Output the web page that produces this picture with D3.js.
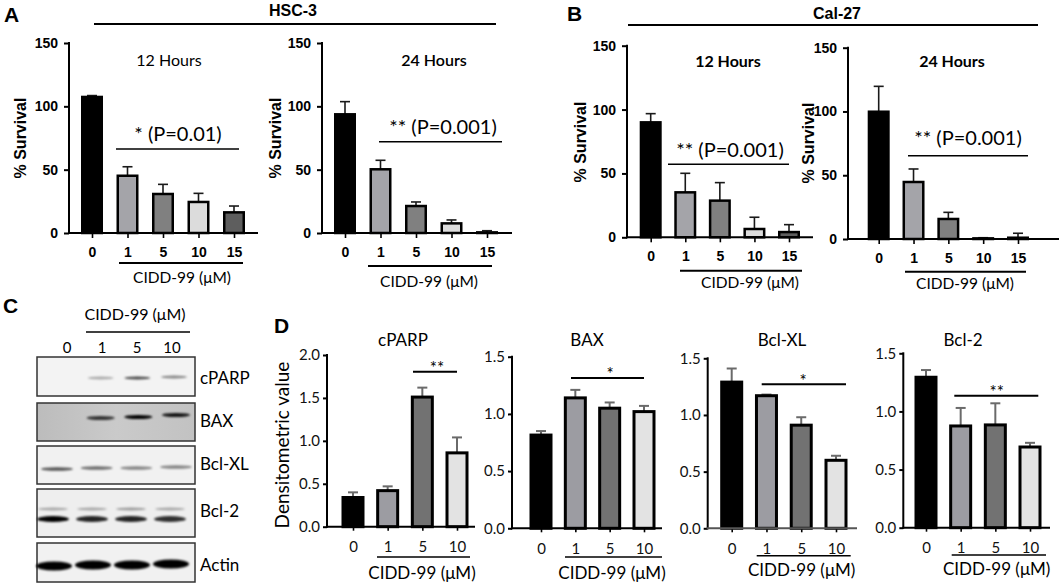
<!DOCTYPE html>
<html><head><meta charset="utf-8">
<script src="https://cdn.jsdelivr.net/npm/d3@7"></script>
<style>
body{margin:0;background:#fff;}
svg{display:block;}
.tk text{font-family:"Liberation Sans",Arial,sans-serif;font-weight:bold;font-size:14px;fill:#000;}
.tkD text{font-family:Lato,"Open Sans",sans-serif;font-size:15px;fill:#111;}
</style>
</head><body>
<script>
// ---------- DATA ----------
const survivalDoses = ["0","1","5","10","15"];
const survivalTicks = [0,50,100,150];
const hsc3_12h = [107.4, 45.2, 30.8, 24.5, 16.3];
const hsc3_12h_err = [1.1, 7.1, 7.6, 6.8, 5.0];
const hsc3_24h = [93.7, 50.3, 21.3, 7.6, 0.5];
const hsc3_24h_err = [10.0, 7.1, 3.2, 2.7, 1.3];
const cal27_12h = [90.0, 35.2, 28.7, 6.5, 4.1];
const cal27_12h_err = [6.8, 14.9, 14.1, 9.2, 5.8];
const cal27_24h = [99.8, 44.7, 15.7, 0.5, 1.0];
const cal27_24h_err = [19.9, 10.2, 5.2, 0.5, 3.5];

const densDoses = ["0","1","5","10"];
const cparp = [0.34, 0.42, 1.51, 0.86];
const cparp_err = [0.06, 0.05, 0.11, 0.18];
const bax = [0.815, 1.14, 1.05, 1.02];
const bax_err = [0.035, 0.07, 0.05, 0.05];
const bclxl = [1.29, 1.17, 0.91, 0.60];
const bclxl_err = [0.12, 0.01, 0.07, 0.04];
const bcl2 = [1.294, 0.875, 0.884, 0.694];
const bcl2_err = [0.062, 0.155, 0.186, 0.036];
const densTicks2 = [0, 0.5, 1.0, 1.5, 2.0];
const densTicks15 = [0, 0.5, 1.0, 1.5];

// western blot band intensities (lanes 0,1,5,10)
const blotProteins = ["cPARP","BAX","Bcl-XL","Bcl-2","Actin"];
const band_cparp = [0, 0.3, 0.7, 0.45];
const band_bax = [0, 0.75, 1, 0.9];
const band_bclxl = [0.65, 0.55, 0.45, 0.45];
const band_bcl2_upper = [0.3, 0.3, 0.35, 0.3];
const band_bcl2_lower = [1, 0.85, 0.85, 0.8];
const band_actin = [1, 1, 1, 1];

// ---------- STYLE ----------
const survColors = ["#000000","#a4a4a9","#808080","#dcdcdc","#5e5e5e"];
const densColors = ["#000000","#9c9ca2","#727272","#e3e3e3"];
const CAL = "Lato, 'Open Sans', sans-serif";
const ARB = "'Liberation Sans', Arial, sans-serif";

const svg = d3.select("body").append("svg").attr("width",1059).attr("height",585);
const defs = svg.append("defs");
defs.append("filter").attr("id","blur").attr("x","-50%").attr("y","-200%").attr("width","200%").attr("height","500%")
  .append("feGaussianBlur").attr("stdDeviation","1.3 1.1");
const gr = defs.append("linearGradient").attr("id","baxbg").attr("x1","0").attr("x2","1").attr("y1","0").attr("y2","0");
gr.append("stop").attr("offset","0").attr("stop-color","#bcbcbc");
gr.append("stop").attr("offset","0.5").attr("stop-color","#cacaca");
gr.append("stop").attr("offset","1").attr("stop-color","#c2c2c2");

function txt(x,y,s,opt={}){
  const t = svg.append("text").attr("x",x).attr("y",y).text(s)
    .attr("font-family",opt.ff||CAL).attr("font-size",opt.fs||16)
    .attr("font-weight",opt.fw||"normal").attr("fill",opt.fill||"#000")
    .attr("text-anchor",opt.anchor||"middle").attr("dy",opt.dy===undefined?"0.35em":opt.dy);
  if(opt.rot) t.attr("transform",`rotate(-90,${x},${y})`);
  return t;
}
function line(x1,y1,x2,y2,w=1.5,c="#000"){
  svg.append("line").attr("x1",x1).attr("y1",y1).attr("x2",x2).attr("y2",y2)
    .attr("stroke",c).attr("stroke-width",w);
}

function barPanel(o){
  const y = d3.scaleLinear().domain([0,o.max]).range([o.y0,o.yTop]);
  const x = d3.scalePoint().domain(o.cats).range([o.x0,o.x1]);
  const g = svg.append("g");
  const eb = g.append("g");
  o.vals.forEach((v,i)=>{
    const cx = x(o.cats[i]);
    const top = y(v+o.err[i]);
    eb.append("line").attr("x1",cx).attr("x2",cx).attr("y1",y(v)).attr("y2",top)
      .attr("stroke",o.errColor).attr("stroke-width",o.errW);
    eb.append("line").attr("x1",cx-o.cap/2).attr("x2",cx+o.cap/2).attr("y1",top).attr("y2",top)
      .attr("stroke",o.errColor).attr("stroke-width",o.errW);
  });
  g.selectAll("rect.bar").data(o.vals).join("rect").attr("class","bar")
    .attr("x",(d,i)=>x(o.cats[i])-(o.bw-o.sw)/2)
    .attr("y",d=>y(d))
    .attr("width",o.bw-o.sw)
    .attr("height",d=>Math.max(0.5,o.y0-y(d)))
    .attr("fill",(d,i)=>o.colors[i]).attr("stroke","#000").attr("stroke-width",o.sw);
  const ya = g.append("g").attr("class",o.tkClass).attr("transform",`translate(${o.axisX},0)`)
    .call(d3.axisLeft(y).tickValues(o.ticks).tickSizeInner(o.tickLen).tickSizeOuter(0)
      .tickPadding(o.yPad).tickFormat(o.fmt));
  ya.select(".domain").remove();
  ya.selectAll(".tick line").attr("stroke","#000").attr("stroke-width",o.axW);
  ya.selectAll("text").attr("font-family",null).attr("font-size",null);
  g.append("line").attr("x1",o.axisX).attr("x2",o.axisX).attr("y1",o.y0+o.axW/2).attr("y2",o.yTop-1)
    .attr("stroke","#000").attr("stroke-width",o.axW);
  const xa = g.append("g").attr("class",o.tkClass).attr("transform",`translate(0,${o.y0})`)
    .call(d3.axisBottom(x).tickSizeInner(o.tickLen).tickSizeOuter(0).tickPadding(o.xPad));
  xa.select(".domain").remove();
  xa.selectAll(".tick line").attr("stroke","#000").attr("stroke-width",o.axW*0.8);
  xa.selectAll("text").attr("font-family",null).attr("font-size",null);
  g.append("line").attr("x1",o.axisX-o.axW/2).attr("x2",o.axisEnd).attr("y1",o.y0).attr("y2",o.y0)
    .attr("stroke",o.xAxisColor||"#000").attr("stroke-width",o.axW);
}

const survCommon = {cats:survivalDoses, max:150, ticks:survivalTicks, fmt:d3.format("d"),
  colors:survColors, bw:22, sw:2.5, cap:10, errColor:"#1a1a1a", errW:1.6,
  tickLen:5, yPad:6, xPad:9, axW:2, tkClass:"tk"};
barPanel({...survCommon, vals:hsc3_12h, err:hsc3_12h_err, axisX:69, y0:233, yTop:43, x0:92, x1:234, axisEnd:258});
barPanel({...survCommon, vals:hsc3_24h, err:hsc3_24h_err, axisX:322, y0:233, yTop:43, x0:345, x1:487, axisEnd:512});
barPanel({...survCommon, vals:cal27_12h, err:cal27_12h_err, axisX:627, y0:237.3, yTop:45.7, x0:650.7, x1:789, axisEnd:813});
barPanel({...survCommon, vals:cal27_24h, err:cal27_24h_err, axisX:848, y0:239, yTop:47.7, x0:878.7, x1:1018, axisEnd:1059});

const densCommon = {cats:densDoses, fmt:d3.format(".1f"), colors:densColors, bw:23, sw:3,
  cap:10, errColor:"#6a6a6a", errW:2, tickLen:4, yPad:3, xPad:11, axW:2, tkClass:"tkD"};
barPanel({...densCommon, vals:cparp, err:cparp_err, max:2, ticks:densTicks2, axisX:327, y0:526.7, yTop:355, x0:353, x1:457, axisEnd:475});
barPanel({...densCommon, vals:bax, err:bax_err, max:1.5, ticks:densTicks15, axisX:512, y0:528.3, yTop:356.7, x0:541, x1:644, axisEnd:662});
barPanel({...densCommon, vals:bclxl, err:bclxl_err, max:1.5, ticks:densTicks15, axisX:707.7, y0:528.3, yTop:358.3, x0:731.7, x1:836, axisEnd:857, xAxisColor:"#555"});
barPanel({...densCommon, vals:bcl2, err:bcl2_err, max:1.5, ticks:densTicks15, axisX:903.3, y0:527.7, yTop:353.3, x0:926, x1:1030, axisEnd:1050});

// ---------- PANEL A / B TEXT ----------
txt(4,22,"A",{ff:ARB,fw:"bold",fs:21,anchor:"start",dy:0});
txt(293,10,"HSC-3",{ff:ARB,fw:"bold",fs:16});
line(94,24,496,24,2);
txt(567,21,"B",{ff:ARB,fw:"bold",fs:21,anchor:"start",dy:0});
txt(837,13,"Cal-27",{ff:ARB,fw:"bold",fs:16});
line(628,25,1038,25,2);

txt(169,60,"12 Hours",{fs:16});
txt(178,134,"* (P=0.01)",{fs:20});
line(116,149,239,149,1.5);
line(119,263,243,263,2);
txt(182,278,"CIDD-99 (\u03bcM)",{fs:15.5});
txt(20,138,"% Survival",{ff:ARB,fw:"bold",fs:16,rot:true});

txt(434,60,"24 Hours",{fs:16,fw:"600"});
txt(443,127,"** (P=0.001)",{fs:20});
line(379,141.7,502,141.7,1.5);
line(368,266,492,266,2);
txt(429,282,"CIDD-99 (\u03bcM)",{fs:15.5});
txt(275,138,"% Survival",{ff:ARB,fw:"bold",fs:16,rot:true});

txt(728,61,"12 Hours",{fs:16,fw:"bold"});
txt(730,150,"** (P=0.001)",{fs:20});
line(668,164.3,789,164.3,1.5);
line(680,270.7,802,270.7,2);
txt(750,283,"CIDD-99 (\u03bcM)",{fs:15.5});
txt(580,142,"% Survival",{ff:ARB,fw:"bold",fs:16,rot:true});

txt(952,61,"24 Hours",{fs:16,fw:"bold"});
txt(968,138,"** (P=0.001)",{fs:20});
line(908,155.7,1028,155.7,1.5);
line(905,271.7,1026,271.7,2);
txt(965,284,"CIDD-99 (\u03bcM)",{fs:15.5});
txt(808,143,"% Survival",{ff:ARB,fw:"bold",fs:16,rot:true});

// ---------- PANEL D TEXT ----------
txt(274,333,"D",{ff:ARB,fw:"bold",fs:21,anchor:"start",dy:0});
txt(282,445,"Densitometric value",{fs:19,rot:true});
const dTitles = [["cPARP",403],["BAX",587],["Bcl-XL",782],["Bcl-2",963]];
dTitles.forEach(([s,x])=>txt(x,340,s,{fs:17}));
line(413,371.7,457,371.7,2); txt(437,374,"**",{fs:17,dy:0});
line(571,378,644,378,2);     txt(610,380,"*",{fs:17,dy:0});
line(761.7,384.3,846,384.3,2); txt(803,386.5,"*",{fs:17,dy:0});
line(954.3,395.7,1038.3,395.7,2); txt(996.7,398,"**",{fs:17,dy:0});
line(377,557,470,557,1.5);  txt(422,573,"CIDD-99 (\u03bcM)",{fs:17});
line(565,557,662,557,1.5);  txt(612,573,"CIDD-99 (\u03bcM)",{fs:17});
line(756.7,555.7,850.7,555.7,1.5); txt(801.7,570,"CIDD-99 (\u03bcM)",{fs:17});
line(951.7,555,1046,555,1.5); txt(996.7,569,"CIDD-99 (\u03bcM)",{fs:17});

// ---------- PANEL C (western blot) ----------
txt(3,313,"C",{ff:ARB,fw:"bold",fs:21,anchor:"start",dy:0});
txt(135,314,"CIDD-99 (\u03bcM)",{fs:16});
line(86,332,190,332,1.5);
const laneLabel = d3.scalePoint().domain(densDoses).range([67,172]);
densDoses.forEach(d=>txt(laneLabel(d),348,d,{fs:15}));

const blotRows = [
  {name:"cPARP", y0:357, y1:396, fill:"#f3f3f3", bands:[{y:378,h:3,w:26,v:band_cparp,dy:[0,0,0,-1]}], lanes:[64,174]},
  {name:"BAX", y0:403, y1:441, fill:"url(#baxbg)", bands:[{y:418,h:4,w:28,v:band_bax,dy:[0,0,-1,-3]}], lanes:[63,176]},
  {name:"Bcl-XL", y0:446, y1:484, fill:"#f1f1f1", bands:[{y:469,h:3.5,w:32,v:band_bclxl,dy:[0,-1,-1,-2]}], lanes:[57,176]},
  {name:"Bcl-2", y0:489, y1:537, fill:"#eeeeee", bands:[{y:509,h:3,w:30,v:band_bcl2_upper,dy:[0,0,0,0]},{y:519,h:6,w:32,v:band_bcl2_lower,dy:[0,0,0,0]}], lanes:[53,170]},
  {name:"Actin", y0:543, y1:582, fill:"#f1f1f1", bands:[{y:566,h:9,w:36,v:band_actin,dy:[0,-1,-1,-2]}], lanes:[54,171]}
];
const labelY = {"cPARP":378,"BAX":421,"Bcl-XL":464,"Bcl-2":511,"Actin":565};
const blotG = svg.append("g");
blotRows.forEach(r=>{
  blotG.append("rect").attr("x",37).attr("y",r.y0).attr("width",158).attr("height",r.y1-r.y0)
    .attr("fill",r.fill).attr("stroke","#333").attr("stroke-width",1.5);
  const lx = d3.scalePoint().domain(densDoses).range(r.lanes);
  r.bands.forEach(b=>{
    blotG.append("g").attr("filter","url(#blur)").selectAll("ellipse").data(b.v).join("ellipse")
      .attr("cx",(d,i)=>lx(densDoses[i])).attr("cy",(d,i)=>b.y+b.dy[i]).attr("rx",b.w/2).attr("ry",b.h/2)
      .attr("fill","#000").attr("fill-opacity",d=>d);
  });
  txt(200,labelY[r.name],r.name,{fs:17,anchor:"start"});
});
</script>
</body></html>
